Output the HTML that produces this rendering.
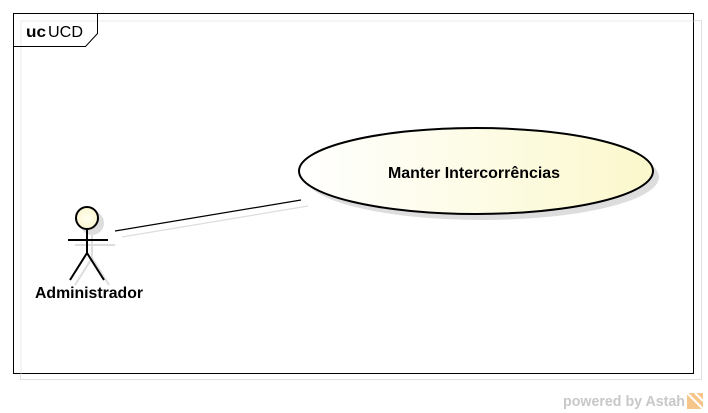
<!DOCTYPE html>
<html><head><meta charset="utf-8"><style>
html,body{margin:0;padding:0;background:#fff;}
svg{display:block;}
text{font-family:"Liberation Sans",sans-serif;}
</style></head><body>
<svg width="708" height="413" viewBox="0 0 708 413" xmlns="http://www.w3.org/2000/svg">
<defs>
<linearGradient id="g" x1="0" y1="0" x2="1" y2="0">
<stop offset="0" stop-color="#ffffff"/><stop offset="1" stop-color="#fbf8cc"/>
</linearGradient>
<radialGradient id="h" cx="0.5" cy="0.5" r="0.5"><stop offset="0" stop-color="#fffff0"/><stop offset="1" stop-color="#fbf6d0"/></radialGradient>
</defs>
<rect width="708" height="413" fill="#fff"/>
<rect x="20.5" y="20.5" width="681" height="359" fill="none" stroke="#e0e0e0" stroke-width="1"/>
<rect x="13.5" y="13.5" width="680" height="360" fill="#fff" stroke="#000" stroke-width="1"/>
<rect x="20.5" y="20.5" width="673" height="1" fill="#e8e8e8"/>
<rect x="20.5" y="20.5" width="1" height="353" fill="#e8e8e8"/>
<path d="M13.5 46.5 H85.5 L97.5 33.5 V13.5" fill="none" stroke="#000" stroke-width="1"/>
<text x="26" y="37" font-size="16" font-weight="bold" fill="#000" textLength="20" lengthAdjust="spacingAndGlyphs">uc</text>
<text x="48" y="37" font-size="16" fill="#000" textLength="35" lengthAdjust="spacingAndGlyphs">UCD</text>
<line x1="122" y1="237" x2="308" y2="206" stroke="#ddd" stroke-width="1.2"/>
<line x1="115" y1="231" x2="301" y2="200" stroke="#000" stroke-width="1.2"/>
<ellipse cx="482" cy="177" rx="177" ry="43" fill="#ddd"/>
<ellipse cx="476" cy="171" rx="177" ry="43" fill="url(#g)" stroke="#000" stroke-width="2"/>
<text x="474" y="178" font-size="16" font-weight="bold" text-anchor="middle" fill="#000" textLength="172" lengthAdjust="spacingAndGlyphs">Manter Intercorrências</text>
<g stroke="#ddd" stroke-width="2" fill="none">
<circle cx="92" cy="223" r="11" fill="#ddd"/>
<line x1="92" y1="234" x2="92" y2="258"/>
<line x1="75" y1="245" x2="115" y2="245"/>
<line x1="92" y1="258" x2="75" y2="285"/>
<line x1="92" y1="258" x2="109" y2="285"/>
</g>
<g stroke="#000" stroke-width="2" fill="none">
<circle cx="87" cy="218" r="11" fill="url(#h)"/>
<line x1="87" y1="229" x2="87" y2="253"/>
<line x1="68" y1="240" x2="108" y2="240"/>
<line x1="87" y1="253" x2="70" y2="280"/>
<line x1="87" y1="253" x2="104" y2="280"/>
</g>
<text x="89" y="298" font-size="16" font-weight="bold" text-anchor="middle" fill="#000" textLength="108" lengthAdjust="spacingAndGlyphs">Administrador</text>
<text x="563" y="406" font-size="15" font-weight="bold" fill="#c8c8c8" textLength="122" lengthAdjust="spacingAndGlyphs">powered by Astah</text>
<rect x="687" y="393" width="16" height="16" fill="#f6c58a"/>
<path d="M687 393 L703 409 M695 393 L703 401" stroke="#fff" stroke-width="2"/>
</svg>
</body></html>
